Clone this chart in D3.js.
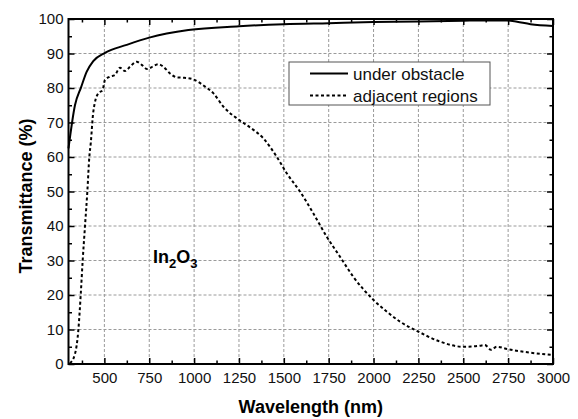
<!DOCTYPE html>
<html>
<head>
<meta charset="utf-8">
<script src="https://cdn.jsdelivr.net/npm/d3@7"></script>
<style>
  body { margin: 0; background: #fff; }
  svg text { font-family: "Liberation Sans", Arial, sans-serif; }
</style>
</head>
<body>
<svg id="chart" width="578" height="419"></svg>
<script>
// wavelength (nm) and transmittance (%)
const underWl = [300, 336, 370, 401, 438, 503, 624, 750, 968, 1250, 1500, 1750, 2000, 2250, 2500, 2600, 2700, 2750, 2800, 2875, 3000];
const underT  = [62.5, 75, 80.2, 84.7, 87.8, 90.2, 92.5, 94.6, 96.8, 97.9, 98.5, 98.8, 99.1, 99.3, 99.5, 99.6, 99.6, 99.6, 99.2, 98.5, 98];

const adjWl = [308, 336, 355, 368, 379, 392, 405, 416, 424, 438, 466, 490, 503, 531, 559, 587, 615, 643, 680, 708, 739, 769, 800, 828, 866, 903, 940, 995, 1061, 1107, 1163, 1246, 1311, 1386, 1460, 1516, 1590, 1664, 1739, 1813, 1887, 1999, 2073, 2147, 2249, 2370, 2498, 2593, 2620, 2655, 2686, 2748, 2872, 3000];
const adjT  = [0.2, 2.9, 9.9, 20, 30, 40, 50, 60, 64, 73, 78.5, 79.4, 82.3, 83.3, 83.8, 85.9, 84.9, 86.2, 87.6, 86.7, 85.5, 86.2, 86.9, 86.2, 84.2, 83.1, 83, 82.5, 80.4, 78.5, 74.6, 70.9, 68.6, 65.4, 60.1, 55.3, 50, 43.7, 36.9, 31.1, 25.3, 18.6, 15.2, 12.3, 9.4, 6.5, 5.0, 5.3, 5.5, 4.1, 5.0, 4.3, 3.3, 2.6];

const xMajor = [500, 750, 1000, 1250, 1500, 1750, 2000, 2250, 2500, 2750, 3000];
const xMinor = [375, 625, 875, 1125, 1375, 1625, 1875, 2125, 2375, 2625, 2875];
const yMajor = [0, 10, 20, 30, 40, 50, 60, 70, 80, 90, 100];
const yMinor = [5, 15, 25, 35, 45, 55, 65, 75, 85, 95];

const seriesNames = ["under obstacle", "adjacent regions"];

const svg = d3.select("#chart");
const pLeft = 68.5, pRight = 553, pTop = 19, pBottom = 364;

const x = d3.scaleLinear().domain([300, 3000]).range([pLeft, pRight]);
const y = d3.scaleLinear().domain([0, 100]).range([pBottom, pTop]);

// grid
const grid = svg.append("g").attr("stroke", "#9a9a9a").attr("stroke-width", 1).attr("stroke-dasharray", "3,2");
grid.selectAll("line.gx").data(xMajor.filter(d => d < 3000)).enter().append("line")
  .attr("x1", d => x(d)).attr("x2", d => x(d)).attr("y1", pTop).attr("y2", pBottom);
grid.selectAll("line.gy").data(yMajor.filter(d => d > 0 && d < 100)).enter().append("line")
  .attr("y1", d => y(d)).attr("y2", d => y(d)).attr("x1", pLeft).attr("x2", pRight);

// curves
const line = d3.line().x(d => x(d[0])).y(d => y(d[1])).curve(d3.curveMonotoneX);
svg.append("path").datum(d3.zip(underWl, underT)).attr("d", line)
  .attr("fill", "none").attr("stroke", "#000").attr("stroke-width", 2);
svg.append("path").datum(d3.zip(adjWl, adjT)).attr("d", line)
  .attr("fill", "none").attr("stroke", "#000").attr("stroke-width", 2).attr("stroke-dasharray", "3,2.5");

// axes (inward ticks)
function styleAxis(g) {
  g.select(".domain").remove();
  g.selectAll(".tick line").attr("stroke", "#000").attr("stroke-width", 1.5);
  g.selectAll(".tick text").attr("font-size", 15).attr("fill", "#111");
}
svg.append("g").attr("transform", `translate(0,${pBottom})`)
  .call(d3.axisBottom(x).tickValues(xMajor).tickSize(-6).tickPadding(8).tickFormat(d3.format("d"))).call(styleAxis);
svg.append("g").attr("transform", `translate(0,${pBottom})`)
  .call(d3.axisBottom(x).tickValues(xMinor).tickSize(-3.5).tickFormat("")).call(styleAxis);
svg.append("g").attr("transform", `translate(0,${pTop})`)
  .call(d3.axisTop(x).tickValues(xMajor).tickSize(-6).tickFormat("")).call(styleAxis);
svg.append("g").attr("transform", `translate(0,${pTop})`)
  .call(d3.axisTop(x).tickValues(xMinor).tickSize(-3.5).tickFormat("")).call(styleAxis);
svg.append("g").attr("transform", `translate(${pLeft},0)`)
  .call(d3.axisLeft(y).tickValues(yMajor).tickSize(-6).tickPadding(5)).call(styleAxis);
svg.append("g").attr("transform", `translate(${pLeft},0)`)
  .call(d3.axisLeft(y).tickValues(yMinor).tickSize(-3.5).tickFormat("")).call(styleAxis);
svg.append("g").attr("transform", `translate(${pRight},0)`)
  .call(d3.axisRight(y).tickValues(yMajor).tickSize(-6).tickFormat("")).call(styleAxis);
svg.append("g").attr("transform", `translate(${pRight},0)`)
  .call(d3.axisRight(y).tickValues(yMinor).tickSize(-3.5).tickFormat("")).call(styleAxis);

// frame
svg.append("rect").attr("x", pLeft).attr("y", pTop).attr("width", pRight - pLeft).attr("height", pBottom - pTop)
  .attr("fill", "none").attr("stroke", "#000").attr("stroke-width", 2);

// axis titles
svg.append("text").attr("x", (pLeft + pRight) / 2).attr("y", 413).attr("text-anchor", "middle")
  .attr("font-size", 18).attr("font-weight", "bold").text("Wavelength (nm)");
svg.append("text").attr("transform", "translate(32,196) rotate(-90)").attr("text-anchor", "middle")
  .attr("font-size", 18).attr("font-weight", "bold").text("Transmittance (%)");

// In2O3 label
const lab = svg.append("text").attr("x", 153).attr("y", 263).attr("font-size", 18).attr("font-weight", "bold");
lab.append("tspan").text("In");
lab.append("tspan").attr("dy", 5).attr("font-size", 13).text("2");
lab.append("tspan").attr("dy", -5).text("O");
lab.append("tspan").attr("dy", 5).attr("font-size", 13).text("3");

// legend
const lg = svg.append("g");
lg.append("rect").attr("x", 289).attr("y", 62).attr("width", 201).attr("height", 43)
  .attr("fill", "#fff").attr("stroke", "#555").attr("stroke-width", 1);
seriesNames.forEach((name, i) => {
  const ly = 73.5 + i * 22;
  lg.append("line").attr("x1", 310).attr("x2", 348).attr("y1", ly).attr("y2", ly)
    .attr("stroke", "#000").attr("stroke-width", 2).attr("stroke-dasharray", i ? "3,2.5" : null);
  lg.append("text").attr("x", 353).attr("y", ly + 6).attr("font-size", 17).attr("fill", "#111").text(name);
});
</script>
</body>
</html>
